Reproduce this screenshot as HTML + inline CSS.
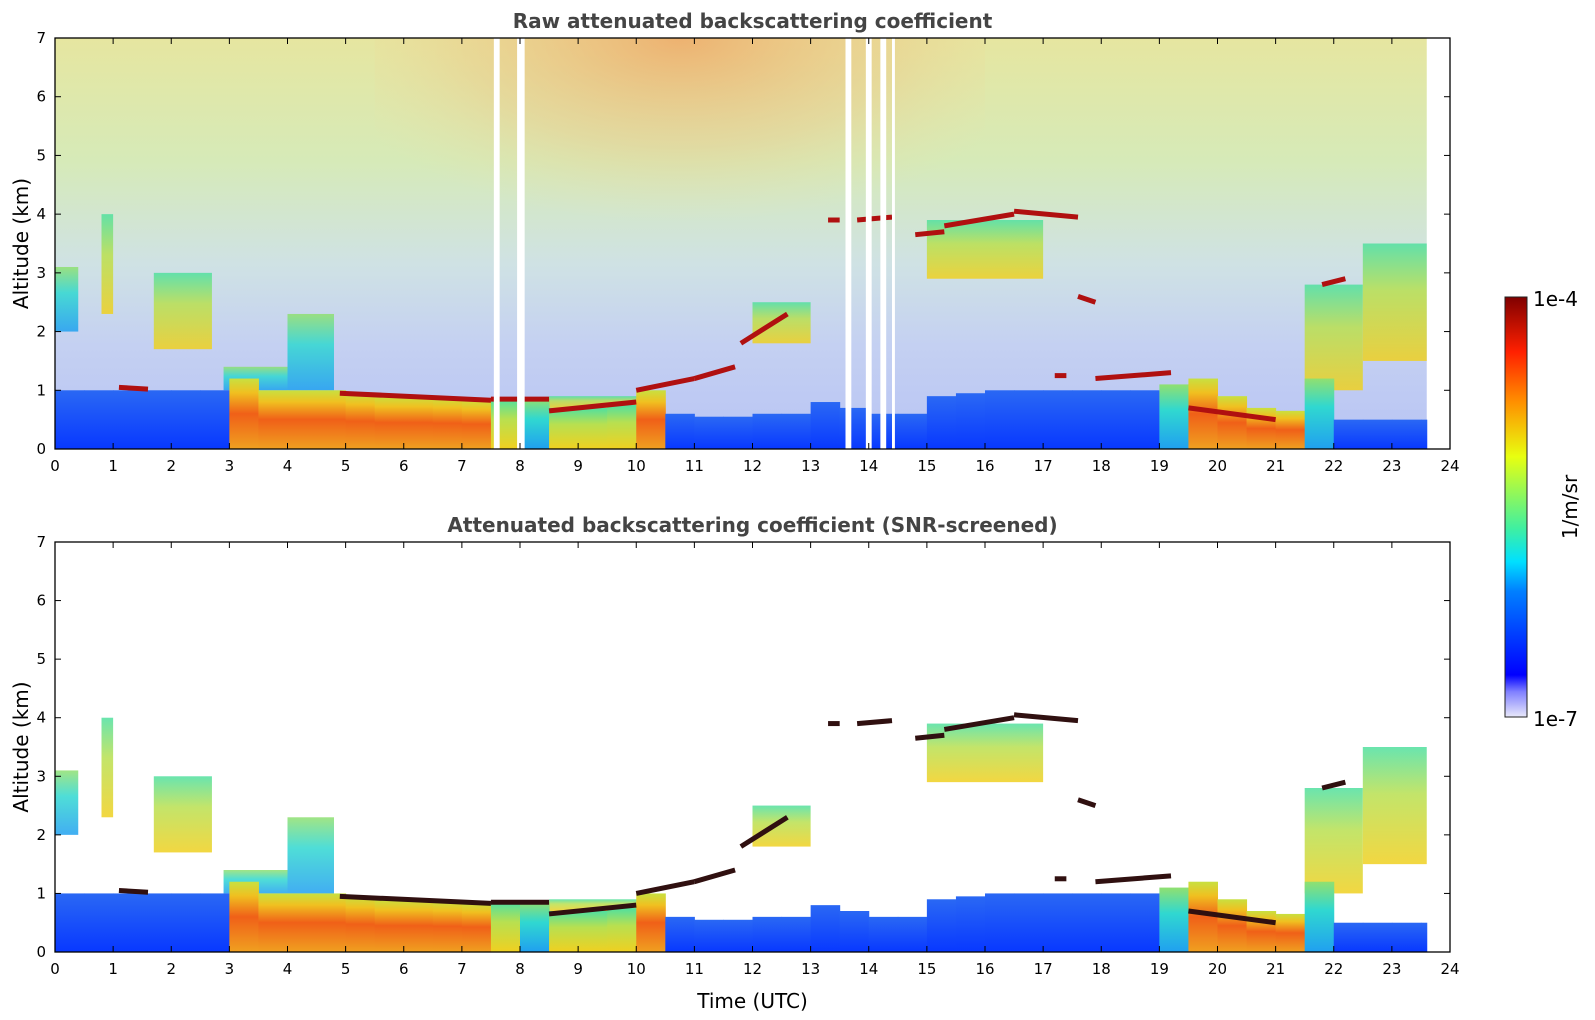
<!DOCTYPE html>
<html><head><meta charset="utf-8"><style>
html,body{margin:0;padding:0;background:#fff;}
svg{display:block;font-family:"DejaVu Sans","Liberation Sans",sans-serif;}
</style></head><body>
<svg id="fig" width="1595" height="1020" viewBox="0 0 1595 1020" xmlns="http://www.w3.org/2000/svg">
<defs>
<linearGradient id="bgTop" x1="0" y1="0" x2="0" y2="1">
<stop offset="0" stop-color="#e6e6a0"/><stop offset="0.3" stop-color="#d6eab8"/>
<stop offset="0.55" stop-color="#cfe2e4"/><stop offset="0.75" stop-color="#c4d0f2"/><stop offset="1" stop-color="#b8c4f4"/>
</linearGradient>
<radialGradient id="warm" cx="0.5" cy="0" r="0.6" fx="0.5" fy="0">
<stop offset="0" stop-color="#f0a060" stop-opacity="0.75"/><stop offset="0.6" stop-color="#f0c080" stop-opacity="0.35"/><stop offset="1" stop-color="#f0e0a0" stop-opacity="0"/>
</radialGradient>
<linearGradient id="c0" x1="0" y1="1" x2="0" y2="0"><stop offset="0" stop-color="#0838ff"/><stop offset="1" stop-color="#2a68f4"/></linearGradient>
<linearGradient id="c1" x1="0" y1="1" x2="0" y2="0"><stop offset="0" stop-color="#f0a020"/><stop offset="0.5" stop-color="#f06018"/><stop offset="0.8" stop-color="#f0c020"/><stop offset="1" stop-color="#c8e040"/></linearGradient>
<linearGradient id="c2" x1="0" y1="1" x2="0" y2="0"><stop offset="0" stop-color="#f0d020"/><stop offset="0.6" stop-color="#b8e050"/><stop offset="1" stop-color="#50e0a0"/></linearGradient>
<linearGradient id="c3" x1="0" y1="1" x2="0" y2="0"><stop offset="0" stop-color="#20a0f0"/><stop offset="0.6" stop-color="#30d8d0"/><stop offset="1" stop-color="#90e070"/></linearGradient>
<linearGradient id="cbar" x1="0" y1="1" x2="0" y2="0">
<stop offset="0" stop-color="#e8e8fa"/><stop offset="0.06" stop-color="#8080ff"/><stop offset="0.1" stop-color="#0000ff"/>
<stop offset="0.3" stop-color="#0080ff"/><stop offset="0.37" stop-color="#00e0ff"/><stop offset="0.45" stop-color="#40f0a0"/>
<stop offset="0.62" stop-color="#e8ff10"/><stop offset="0.75" stop-color="#ff9000"/><stop offset="0.87" stop-color="#ff2000"/><stop offset="1" stop-color="#800000"/>
</linearGradient>
</defs>
<g id="plots"></g>
<g id="axes"></g>
</svg>
<script>
// ---- data (hours, km) ----
const times = [0,0.5,1,1.5,2,2.5,3,3.5,4,4.5,5,5.5,6,6.5,7,7.5,8,8.5,9,9.5,10,10.5,11,11.5,12,12.5,13,13.5,14,14.5,15,15.5,16,16.5,17,17.5,18,18.5,19,19.5,20,20.5,21,21.5,22,22.5,23,23.5];
const layerTop = [1,1,1,1,1,1, 1.2,1,1,1, 0.95,0.9,0.9,0.88,0.85, 0.85,0.85, 0.7,0.7,0.75, 1.0, 0.6,0.55,0.55,0.6,0.6, 0.8,0.7,0.6,0.6, 0.9,0.95,1.0,1.0,1.0,1.0, 1.0,1.0, 1.1,1.2,0.9, 0.7,0.65,1.2, 0.5, 0.5,0.5,0.5];
const layerClass = [0,0,0,0,0,0, 1,1,1,1,1,1,1,1,1, 2,3,2,2,2,1, 0,0,0,0,0,0,0,0,0,0,0,0,0,0,0,0,0, 3,1,1,1,1,3, 0,0,0,0];
const cloudLines = [[1.1,1.6,1.05,1.02],[4.9,7.5,0.95,0.83],[7.5,8.5,0.85,0.85],[8.5,10,0.65,0.8],[10,11,1.0,1.2],[11,11.7,1.2,1.4],[11.8,12.6,1.8,2.3],[13.3,13.5,3.9,3.9],[13.8,14.4,3.9,3.95],[14.8,15.3,3.65,3.7],[15.3,16.5,3.8,4.0],[16.5,17.6,4.05,3.95],[17.6,17.9,2.6,2.5],[17.2,17.4,1.25,1.25],[17.9,19.2,1.2,1.3],[19.5,21,0.7,0.5],[21.8,22.2,2.8,2.9]];
const plumes = [[0,0.4,2.0,3.1,3],[0.8,1.0,2.3,4.0,2],[1.7,2.7,1.7,3.0,2],[4.0,4.8,1.0,2.3,3],[2.9,4.0,1.0,1.4,3],[12.0,13.0,1.8,2.5,2],[15.0,17.0,2.9,3.9,2],[21.5,22.5,1.0,2.8,2],[22.5,23.6,1.5,3.5,2],[8.5,10.5,0.7,0.9,2]];
const gaps = [[7.55,7.65],[7.95,8.08],[13.6,13.7],[13.95,14.05],[14.2,14.3],[14.4,14.45]];
const xTicks = [0,1,2,3,4,5,6,7,8,9,10,11,12,13,14,15,16,17,18,19,20,21,22,23,24];
const yTicks = [0,1,2,3,4,5,6,7];
const dataEnd = 23.6;

const NS = "http://www.w3.org/2000/svg";
const X0 = 55, X1 = 1450;
const panels = [{top:38,bottom:449,raw:true,title:"Raw attenuated backscattering coefficient",tn:"top"},
                {top:542,bottom:952,raw:false,title:"Attenuated backscattering coefficient (SNR-screened)",tn:"bottom"}];
const X = t => X0 + t*(X1-X0)/24;
const mkY = p => a => p.bottom - a*(p.bottom-p.top)/7;
function el(tag, attrs, parent){ const e=document.createElementNS(NS,tag); for(const k in attrs) e.setAttribute(k,attrs[k]); parent.appendChild(e); return e; }
const plots = document.getElementById('plots'), axes = document.getElementById('axes');

panels.forEach(p => {
  const Y = mkY(p);
  const g = el('g',{},plots);
  
  
  if (p.raw) {
    const bg = el('rect',{x:X(0),y:p.top,width:X(dataEnd)-X(0),height:p.bottom-p.top,fill:'url(#bgTop)'},g);
    
    
    const w = el('rect',{x:X(5.5),y:p.top,width:X(16)-X(5.5),height:(p.bottom-p.top)*0.75,fill:'url(#warm)'},g);
    
    
  }
  plumes.forEach(pl => {
    const r = el('rect',{x:X(pl[0]),y:Y(pl[3]),width:X(pl[1])-X(pl[0]),height:Y(pl[2])-Y(pl[3]),fill:'url(#c'+pl[4]+')',opacity:0.85},g);
    
    
  });
  times.forEach((t,i) => {
    const t1 = Math.min(t+0.5,dataEnd);
    const r = el('rect',{x:X(t),y:Y(layerTop[i]),width:X(t1)-X(t)+0.5,height:Y(0)-Y(layerTop[i]),fill:'url(#c'+layerClass[i]+')'},g);
    
    
  });
  cloudLines.forEach(c => {
    const l = el('line',{x1:X(c[0]),y1:Y(c[2]),x2:X(c[1]),y2:Y(c[3]),stroke:p.raw?'#b01010':'#301010','stroke-width':5},g);
    
    
  });
  if (p.raw) gaps.forEach(gp => {
    const r = el('rect',{x:X(gp[0]),y:p.top,width:X(gp[1])-X(gp[0]),height:p.bottom-p.top,fill:'#fff'},g);
    
    
  });
  const ax = el('g',{},axes);
  
  
  el('rect',{x:X0,y:p.top,width:X1-X0,height:p.bottom-p.top,fill:'none',stroke:'#000','stroke-width':1.3},ax);
  xTicks.forEach(v => {
    el('line',{x1:X(v),x2:X(v),y1:p.bottom,y2:p.bottom-6,stroke:'#000'},ax);
    el('line',{x1:X(v),x2:X(v),y1:p.top,y2:p.top+6,stroke:'#000'},ax);
    const tx = el('text',{x:X(v),y:p.bottom+22,'text-anchor':'middle','font-size':15},ax);
    tx.textContent = v;
    
    
  });
  yTicks.forEach(v => {
    el('line',{x1:X0,x2:X0+6,y1:Y(v),y2:Y(v),stroke:'#000'},ax);
    el('line',{x1:X1,x2:X1-6,y1:Y(v),y2:Y(v),stroke:'#000'},ax);
    const tx = el('text',{x:X0-9,y:Y(v)+5,'text-anchor':'end','font-size':15},ax);
    tx.textContent = v;
    
    
  });
  const ttl = el('text',{x:(X0+X1)/2,y:p.top-10,'text-anchor':'middle','font-size':20,'font-weight':'bold',fill:'#444'},ax);
  ttl.textContent = p.title;
  
  
  const yl = el('text',{x:0,y:0,'text-anchor':'middle','font-size':20,transform:'translate(28,'+((p.top+p.bottom)/2)+') rotate(-90)'},ax);
  yl.textContent = 'Altitude (km)';
  
  
});
const xl = el('text',{x:(X0+X1)/2,y:1008,'text-anchor':'middle','font-size':20},axes);
xl.textContent = 'Time (UTC)';


const cb = el('g',{},axes);


el('rect',{x:1505,y:297,width:22,height:420,fill:'url(#cbar)',stroke:'#222','stroke-width':1},cb);
const c1 = el('text',{x:1533,y:306,'font-size':20},cb); c1.textContent='1e-4';
 
const c2 = el('text',{x:1533,y:726,'font-size':20},cb); c2.textContent='1e-7';
 
const c3 = el('text',{x:0,y:0,'text-anchor':'middle','font-size':20,transform:'translate(1577,507) rotate(-90)'},cb); c3.textContent='1/m/sr';
 
</script>
</body></html>
